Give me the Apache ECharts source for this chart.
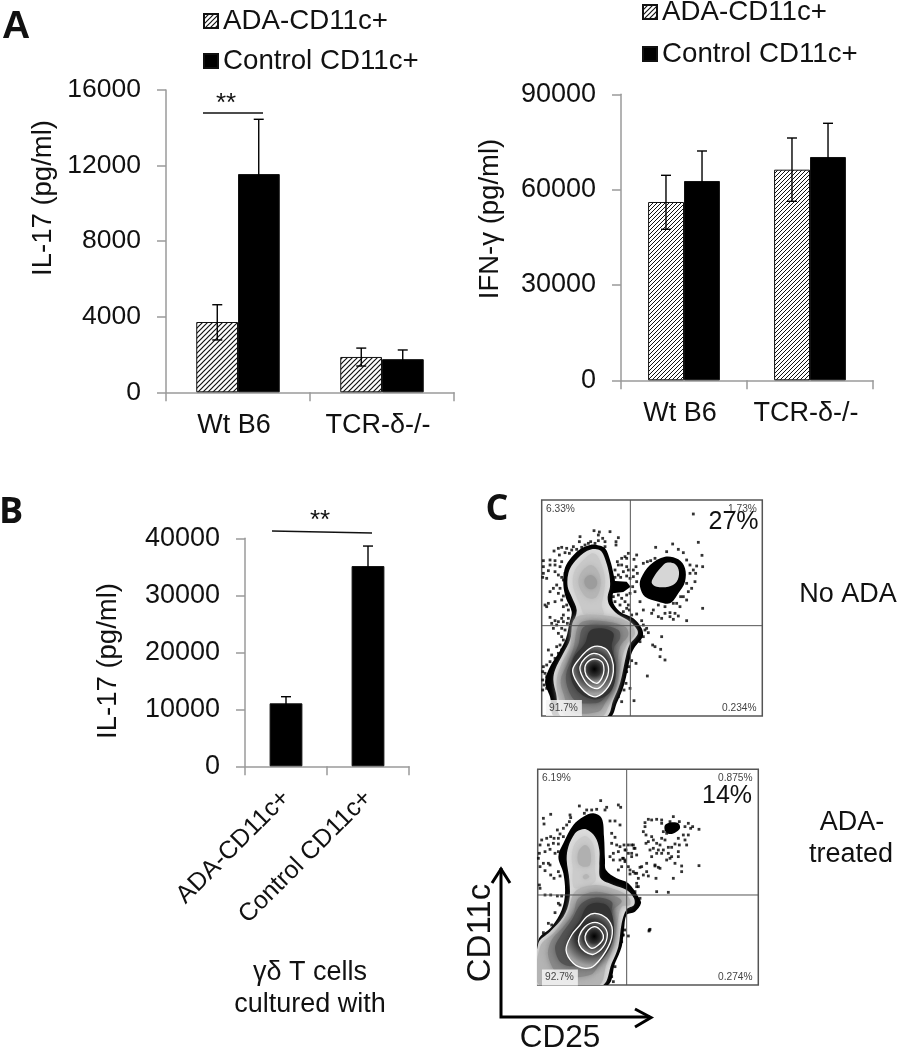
<!DOCTYPE html>
<html>
<head>
<meta charset="utf-8">
<style>html,body{margin:0;padding:0;background:#fff}#c{width:898px;height:1050px}</style>
<script src="https://cdn.jsdelivr.net/npm/echarts@6/dist/echarts.min.js"></script>
</head>
<body>
<div id="c"></div>
<script>
// ---------- bar chart data ----------
const seriesNames = ['ADA-CD11c+', 'Control CD11c+'];
const catsA = ['Wt B6', 'TCR-δ-/-'];
const il17Ada = [3720, 1870];
const il17AdaLow = [2770, 1390];
const il17AdaHigh = [4635, 2340];
const il17Ctrl = [11550, 1755];
const il17CtrlLow = [8650, 1270];
const il17CtrlHigh = [14450, 2240];
const ifnAda = [56110, 66280];
const ifnAdaLow = [47520, 56330];
const ifnAdaHigh = [64510, 76250];
const ifnCtrl = [62720, 70270];
const ifnCtrlLow = [53300, 59700];
const ifnCtrlHigh = [72160, 80880];
const catsB = ['ADA-CD11c+', 'Control CD11c+'];
const il17B = [11050, 35130];
const il17BLow = [9890, 31600];
const il17BHigh = [12210, 38640];

// ---------- flow plot 1: contour outlines and outlying events (plot channel units) ----------
const p1Gate = [301, 407];
const p1Band = [[200,165],[225,175],[240,210],[250,250],[255,285],[248,315],[250,340],[270,365],[310,385],[335,415],[338,440],[315,470],[303,495],[282,585],[260,640],[240,680],[75,680],[60,620],[45,575],[60,530],[88,485],[108,445],[118,400],[125,365],[108,325],[100,285],[103,240],[118,210],[150,178],[180,165]];
const p1Bridge = [[245,272],[290,275],[302,290],[280,306],[248,310]];
const p1Inner = [[200,178],[215,185],[228,215],[238,255],[240,290],[233,320],[238,345],[262,372],[300,395],[322,420],[322,435],[300,462],[290,490],[270,580],[250,630],[228,680],[95,680],[78,610],[70,570],[75,540],[100,490],[120,450],[130,400],[140,360],[125,320],[113,290],[115,250],[130,220],[160,190],[185,178]];
const p1U1 = [[200,195],[215,225],[225,265],[222,310],[215,345],[220,375],[165,375],[150,345],[135,310],[128,275],[135,240],[160,210],[185,190]];
const p1U2 = [[183,225],[205,245],[212,280],[200,320],[175,325],[155,305],[145,275],[155,245]];
const p1U3 = [[183,255],[200,270],[198,290],[180,298],[165,285],[165,265]];
const p1D1 = [[135,385],[210,375],[295,395],[315,430],[290,465],[275,510],[260,590],[235,650],[215,680],[110,680],[85,620],[80,570],[95,520],[120,470]];
const p1D2 = [[150,400],[210,392],[285,410],[295,435],[270,470],[262,520],[250,590],[225,640],[205,665],[125,665],[100,610],[92,570],[110,525],[130,475]];
const p1D3 = [[160,412],[210,405],[265,420],[270,445],[252,475],[255,530],[245,590],[215,632],[190,640],[140,635],[115,600],[108,555],[125,510],[145,465]];
const p1D4 = [[180,422],[215,415],[250,430],[245,470],[258,530],[245,600],[200,628],[150,610],[122,560],[130,505],[165,460]];
const p1R1 = [[185,472],[225,475],[245,505],[250,545],[235,590],[200,620],[170,610],[140,575],[128,540],[145,510]];
const p1R2 = [[190,490],[218,500],[235,530],[230,565],[205,595],[175,585],[155,555],[150,530],[165,505]];
const p1R3 = [[190,507],[215,515],[222,540],[215,565],[200,580],[175,565],[165,545],[168,522]];
const p1Blob = [[405,200],[445,208],[465,235],[465,275],[445,310],[420,340],[385,335],[345,320],[330,290],[333,265],[360,225]];
const p1BlobCore = [[410,218],[435,222],[447,245],[440,275],[415,290],[380,290],[365,278],[375,255],[395,230]];
const p1Events = [[192,122],[208,126],[205,135],[240,125],[150,140],[218,145],[265,143],[258,155],[225,155],[148,155],[258,165],[225,170],[195,160],[175,160],[165,165],[130,170],[110,175],[95,172],[85,175],[72,183],[88,195],[105,188],[118,190],[125,180],[140,178],[155,172],[182,155],[205,152],[490,72],
[60,210],[75,212],[40,212],[40,230],[60,225],[75,225],[95,215],[90,230],[75,245],[55,242],[40,250],[38,262],[50,265],[85,255],[95,262],[105,250],[100,270],[80,285],[90,295],[70,295],[60,305],[85,310],[100,318],[95,330],[75,335],[45,345],[55,340],[50,350],[100,350],[110,345],[115,360],[100,375],[95,385],[60,382],[75,392],[85,395],[100,395],[115,385],[112,400],[65,400],[80,405],[70,415],[95,415],[105,420],[85,430],[95,440],[100,450],[90,465],[80,470],[95,480],[55,480],[65,495],[85,490],[75,505],[60,515],[50,525],[40,530],[38,545],[45,550],[50,560],[38,570],[42,585],[38,600],[50,595],
[262,215],[275,205],[295,190],[290,205],[285,200],[265,225],[275,225],[290,230],[295,240],[255,240],[280,245],[265,255],[272,262],[255,262],[290,258],[300,265],[250,270],[300,310],[290,315],[265,315],[250,320],[275,325],[255,335],[285,335],[270,345],[290,355],[280,365],[298,360],[295,345],[305,375],[320,372],[335,392],[340,405],[345,420],[355,428],[340,440],[330,455],[315,460],[318,230],[312,208],[320,195],[310,240],[322,250],[310,260],[320,275],[308,290],[315,305],[330,335],
[377,172],[410,185],[428,162],[445,178],[460,188],[505,157],[516,196],[500,228],[518,230],[470,210],[480,225],[490,240],[497,250],[480,250],[495,275],[470,280],[485,295],[475,305],[460,320],[470,330],[452,320],[440,340],[450,350],[430,340],[405,350],[385,345],[370,360],[340,360],[365,370],[385,380],[405,370],[420,368],[435,370],[445,378],[395,385],[420,380],[430,388],[470,392],[518,355],[362,212],[375,205],[340,220],[352,215],[395,440],[368,465],[375,470],[392,478],[390,500],[405,510],[352,558],[318,520],[305,512],[298,530],[290,545],[288,580],[300,595],[268,595],[282,600],[265,620],[275,635],[312,632],[250,640],[350,415]];

// ---------- flow plot 2 ----------
const p2Gate = [440, 435];
const p2Band = [[340,190],[365,205],[372,260],[375,330],[378,360],[410,385],[445,400],[475,440],[483,460],[465,485],[440,495],[432,540],[425,590],[405,640],[380,707],[175,707],[175,570],[215,530],[245,480],[255,430],[250,370],[235,320],[250,280],[280,225],[310,200]];
const p2Inner = [[318,238],[345,260],[358,300],[358,345],[362,385],[400,405],[440,420],[462,445],[462,465],[440,478],[425,520],[415,590],[395,640],[365,707],[175,707],[175,580],[210,545],[250,500],[268,450],[268,390],[260,330],[265,290],[285,250],[300,240]];
const p2U1 = [[315,258],[338,280],[345,320],[345,360],[345,395],[300,415],[280,410],[278,350],[275,320],[285,280]];
const p2U2 = [[315,285],[330,300],[330,345],[310,350],[295,340],[295,305]];
const p2U3 = [[318,372],[328,380],[315,388],[308,380]];
const p2D1 = [[285,425],[345,405],[410,420],[445,440],[450,465],[425,470],[412,520],[400,590],[380,640],[355,707],[180,707],[180,590],[225,545],[262,490]];
const p2D2 = [[295,445],[345,425],[410,440],[425,455],[400,480],[395,530],[385,590],[360,640],[330,675],[240,675],[205,620],[215,570],[250,530],[280,490]];
const p2D3 = [[305,460],[345,443],[395,455],[395,480],[390,530],[375,590],[345,640],[300,650],[245,640],[225,595],[240,560],[275,510]];
const p2D4 = [[320,470],[350,458],[385,470],[402,530],[392,590],[350,640],[310,640],[262,610],[270,555],[300,510]];
const p2R1 = [[345,490],[380,505],[397,540],[385,590],[345,645],[315,655],[280,640],[258,600],[275,555],[300,525],[320,500]];
const p2R2 = [[345,517],[372,530],[382,555],[370,590],[340,613],[315,605],[298,585],[297,560],[315,530]];
const p2R3 = [[345,530],[365,545],[370,565],[355,585],[335,595],[320,580],[315,560],[325,540]];
const p2Blob = [[555,225],[570,218],[595,220],[600,235],[585,248],[568,252],[555,242]];
const p2Events = [[298,168],[362,152],[415,165],[422,172],[380,172],[375,180],[350,178],[335,180],[320,180],[313,190],[270,195],[272,203],[212,193],[190,205],[192,222],[268,215],[260,225],[250,235],[232,240],[212,260],[200,265],[222,265],[235,265],[185,270],[180,285],[205,285],[220,280],[235,282],[250,260],[240,252],[178,310],[195,305],[210,298],[175,325],[225,310],[235,305],[190,340],[205,340],[210,345],[180,350],[195,362],[212,375],[235,365],[240,378],[222,385],[178,405],[180,415],[195,435],[212,435],[232,438],[245,438],[235,460],[240,465],[225,488],[205,520],[215,525],[190,548],
[390,213],[405,213],[395,250],[405,262],[420,225],[395,280],[410,285],[400,310],[420,290],[415,305],[390,320],[400,330],[420,330],[430,325],[435,335],[425,350],[415,360],[445,285],[460,285],[465,295],[445,310],[455,320],[445,350],[460,365],[450,372],[470,370],[475,385],[480,352],[470,410],[465,425],[435,300],
[432,285],[438,300],[435,330],[428,325],[455,285],[462,295],[455,310],[470,315],[485,350],[500,340],[500,365],[490,375],[505,378],[525,345],[540,355],[560,330],[575,320],[585,340],[605,348],[657,347],[528,385],[580,385],[605,365],[530,425],[565,427],[450,360],[465,370],[470,400],[475,410],[480,445],[508,540],[507,543],[510,538],[445,558],[430,555],
[495,218],[505,208],[515,210],[530,208],[545,210],[545,220],[495,230],[490,245],[498,255],[515,260],[520,270],[505,275],[498,280],[550,245],[560,250],[555,270],[545,265],[530,280],[540,285],[520,295],[510,300],[535,300],[550,300],[565,292],[575,292],[585,282],[598,285],[615,270],[595,265],[610,255],[625,255],[620,285],[632,235],[625,220],[615,230],[638,230],[657,238],[598,215],[580,200],[570,215],[515,320],[565,310],[570,325],[545,310],[530,310],[595,305],[595,320],[525,348],[535,352],
[428,555],[435,540],[425,575],[405,650],[395,680],[400,695]];

// ---------- styling helpers ----------
const FONT = '"Liberation Sans", Arial, sans-serif';
const INK = '#111';
const AXIS = '#9a9a9a';

function hatchTile(pitch, w) {
  const cv = document.createElement('canvas');
  cv.width = pitch; cv.height = pitch;
  const g = cv.getContext('2d');
  g.fillStyle = '#fff'; g.fillRect(0, 0, pitch, pitch);
  g.strokeStyle = '#111'; g.lineWidth = w;
  [[-1, pitch + 1, pitch + 1, -1], [-1, 1, 1, -1], [pitch - 1, pitch + 1, pitch + 1, pitch - 1]].forEach(s => {
    g.beginPath(); g.moveTo(s[0], s[1]); g.lineTo(s[2], s[3]); g.stroke();
  });
  return { image: cv, repeat: 'repeat' };
}
const hatchA = hatchTile(5, 1.15);
const hatchB = hatchTile(4, 1);

function xAxis(grid, cats, extra) {
  return Object.assign({
    type: 'category', gridIndex: grid, data: cats,
    axisLine: { show: true, lineStyle: { color: AXIS, width: 1.5 } },
    axisTick: { show: true, length: 9, inside: false, lineStyle: { color: AXIS, width: 1.5 } },
    axisLabel: { color: INK, fontFamily: FONT, fontSize: 27, margin: 20, interval: 0, hideOverlap: false, padding: [0, 8, 0, 0] },
    splitLine: { show: false }
  }, extra || {});
}
function plainNumber(v) { return String(v); }
function yAxis(grid, max, step, size) {
  return {
    type: 'value', gridIndex: grid, min: 0, max: max, interval: step,
    axisLine: { show: true, lineStyle: { color: AXIS, width: 1.5 } },
    axisTick: { show: true, length: 9, lineStyle: { color: AXIS, width: 1.5 } },
    axisLabel: { color: INK, fontFamily: FONT, fontSize: size, margin: 25, showMinLabel: true, showMaxLabel: true, formatter: plainNumber, padding: [8, 0, 0, 0] },
    splitLine: { show: false }
  };
}
function barSeries(name, grid, vals, fill, gap) {
  return {
    type: 'bar', name: name, xAxisIndex: grid, yAxisIndex: grid, data: vals,
    barGap: 0, barCategoryGap: gap, silent: true,
    itemStyle: { color: fill, borderColor: '#111', borderWidth: 1 }
  };
}
// whisker centred on a bar: shift is the fraction of the band between band centre and bar centre
function whisker(grid, low, high, shift) {
  return {
    type: 'custom', xAxisIndex: grid, yAxisIndex: grid, silent: true, z: 5,
    data: low.map((v, i) => [i, v, high[i]]),
    renderItem: function (params, api) {
      const band = api.size([1, 0])[0];
      const cx = api.coord([api.value(0), api.value(2)])[0] + band * shift;
      const yHi = api.coord([api.value(0), api.value(2)])[1];
      const yLo = api.coord([api.value(0), api.value(1)])[1];
      const ln = (x1, y1, x2, y2) => ({ type: 'line', shape: { x1, y1, x2, y2 }, style: { stroke: '#000', lineWidth: 1.4 } });
      return { type: 'group', children: [ln(cx, yHi, cx, yLo), ln(cx - 5, yHi, cx + 5, yHi), ln(cx - 5, yLo, cx + 5, yLo)] };
    }
  };
}
function ring(cx, cy, inner, outer) {
  return { type: 'radial', x: cx, y: cy, r: 0.62, colorStops: [{ offset: 0, color: inner }, { offset: 0.55, color: '#333' }, { offset: 1, color: outer }] };
}
function contours(grid, levels) {
  return {
    type: 'custom', xAxisIndex: grid, yAxisIndex: grid, silent: true, clip: true, z: 3,
    data: levels.map((l, i) => [i]),
    renderItem: function (params, api) {
      const l = levels[params.dataIndex];
      return {
        type: 'polygon',
        shape: { points: l.pts.map(p => api.coord(p)), smooth: l.smooth === undefined ? 0.35 : l.smooth },
        style: {
          fill: l.fill, stroke: l.stroke || null, lineWidth: l.stroke ? 1.3 : 0,
          shadowBlur: l.blur || 0, shadowColor: l.blur ? l.fill : 'transparent'
        }
      };
    }
  };
}
function events(grid, pts) {
  return {
    type: 'scatter', xAxisIndex: grid, yAxisIndex: grid, data: pts, silent: true, clip: true, z: 2,
    symbol: 'rect', symbolSize: 2.8, itemStyle: { color: '#000' }
  };
}
function gates(grid, gate, xr, yr) {
  return {
    type: 'custom', xAxisIndex: grid, yAxisIndex: grid, silent: true, z: 6,
    data: [[gate[0], gate[1]]],
    renderItem: function (params, api) {
      const a = api.coord([api.value(0), yr[0]]), b = api.coord([api.value(0), yr[1]]);
      const c = api.coord([xr[0], api.value(1)]), d = api.coord([xr[1], api.value(1)]);
      const st = { stroke: '#555', lineWidth: 1 };
      return { type: 'group', children: [
        { type: 'line', shape: { x1: a[0], y1: a[1], x2: b[0], y2: b[1] }, style: st },
        { type: 'line', shape: { x1: c[0], y1: c[1], x2: d[0], y2: d[1] }, style: st }
      ] };
    }
  };
}
function flowAxisX(grid, range) { return { type: 'value', gridIndex: grid, min: range[0], max: range[1], show: false }; }
function flowAxisY(grid, range) { return { type: 'value', gridIndex: grid, min: range[0], max: range[1], inverse: true, show: false }; }

function txt(text, x, y, size, opts) {
  const o = opts || {};
  return {
    type: 'text', x: x, y: y, rotation: o.rot || 0, z: 20, silent: true,
    style: {
      text: text, fontSize: size, fontFamily: o.font || FONT, fontWeight: o.weight || 'normal',
      fill: o.fill || INK, align: o.align || 'center', verticalAlign: 'middle',
      textAlign: o.align || 'center', textVerticalAlign: 'middle',
      backgroundColor: o.bg, padding: o.pad
    }
  };
}
function seg(points, w, color) {
  return { type: 'polyline', z: 20, silent: true, shape: { points: points }, style: { stroke: color || '#111', lineWidth: w, fill: null } };
}
function legend(left, top, gap) {
  return {
    left: left, top: top, padding: 0, orient: 'vertical', data: seriesNames, icon: 'rect',
    itemWidth: 14, itemHeight: 14, itemGap: gap, selectedMode: false,
    textStyle: { color: INK, fontFamily: FONT, fontSize: 27.7 }
  };
}

const p1X = [35, 697], p1Y = [30, 678], p2X = [173, 835], p2Y = [58, 705];
const p1Levels = [
  { pts: p1Band, fill: '#000' }, { pts: p1Bridge, fill: '#000', smooth: 0 },
  { pts: p1Inner, fill: '#dcdcdc' }, { pts: p1U1, fill: '#c9c9c9', blur: 6 }, { pts: p1U2, fill: '#b5b5b5', blur: 6 }, { pts: p1U3, fill: '#9c9c9c', blur: 5 },
  { pts: p1D1, fill: '#b8b8b8', blur: 6 }, { pts: p1D2, fill: '#8e8e8e', blur: 7 }, { pts: p1D3, fill: '#5e5e5e', blur: 8 }, { pts: p1D4, fill: '#333', blur: 8 },
  { pts: p1R1, fill: ring(0.52, 0.42, '#151515', '#a0a0a0'), stroke: '#fff' },
  { pts: p1R2, fill: ring(0.5, 0.45, '#181818', '#a0a0a0'), stroke: '#fff' },
  { pts: p1R3, fill: ring(0.5, 0.42, '#000', '#8f8f8f'), stroke: '#fff' },
  { pts: p1Blob, fill: '#000' }, { pts: p1BlobCore, fill: '#d6d6d6' }
];
const p2Levels = [
  { pts: p2Band, fill: '#000' },
  { pts: p2Inner, fill: '#dcdcdc' }, { pts: p2U1, fill: '#cbcbcb', blur: 6 }, { pts: p2U2, fill: '#b0b0b0', blur: 6 }, { pts: p2U3, fill: '#b5b5b5', blur: 4 },
  { pts: p2D1, fill: '#b4b4b4', blur: 6 }, { pts: p2D2, fill: '#8a8a8a', blur: 7 }, { pts: p2D3, fill: '#555', blur: 8 }, { pts: p2D4, fill: '#333', blur: 8 },
  { pts: p2R1, fill: ring(0.55, 0.42, '#151515', '#a0a0a0'), stroke: '#fff' },
  { pts: p2R2, fill: ring(0.52, 0.45, '#181818', '#a0a0a0'), stroke: '#fff' },
  { pts: p2R3, fill: ring(0.5, 0.45, '#000', '#8f8f8f'), stroke: '#fff' },
  { pts: p2Blob, fill: '#000' }
];

const option = {
  animation: false,
  backgroundColor: '#fff',
  textStyle: { fontFamily: FONT },
  legend: [legend(203, 7, 12), legend(642, -2, 14)],
  grid: [
    { left: 166, top: 90, width: 288, height: 302.3 },
    { left: 621, top: 94.3, width: 252, height: 286 },
    { left: 245, top: 538.3, width: 164, height: 228 },
    { left: 541.7, top: 500, width: 220.6, height: 216, show: true, borderColor: '#555', borderWidth: 1.5, backgroundColor: '#fff' },
    { left: 537.7, top: 769.3, width: 220.6, height: 215.7, show: true, borderColor: '#555', borderWidth: 1.5, backgroundColor: '#fff' }
  ],
  xAxis: [
    xAxis(0, catsA), xAxis(1, catsA),
    xAxis(2, catsB, { axisLabel: { color: INK, fontFamily: FONT, fontSize: 25, margin: 28, interval: 0, rotate: 45, hideOverlap: false } }),
    flowAxisX(3, p1X), flowAxisX(4, p2X)
  ],
  yAxis: [
    yAxis(0, 16000, 4000, 26.5), yAxis(1, 90000, 30000, 27), yAxis(2, 40000, 10000, 27),
    flowAxisY(3, p1Y), flowAxisY(4, p2Y)
  ],
  series: [
    barSeries(seriesNames[0], 0, il17Ada, hatchA, '42%'),
    barSeries(seriesNames[1], 0, il17Ctrl, '#000', '42%'),
    whisker(0, il17AdaLow, il17AdaHigh, -0.144),
    whisker(0, il17CtrlLow, il17CtrlHigh, 0.144),
    barSeries(seriesNames[0], 1, ifnAda, hatchB, '43%'),
    barSeries(seriesNames[1], 1, ifnCtrl, '#000', '43%'),
    whisker(1, ifnAdaLow, ifnAdaHigh, -0.143),
    whisker(1, ifnCtrlLow, ifnCtrlHigh, 0.143),
    barSeries('IL-17', 2, il17B, '#000', '60%'),
    whisker(2, il17BLow, il17BHigh, 0),
    events(3, p1Events), contours(3, p1Levels), gates(3, p1Gate, p1X, p1Y),
    events(4, p2Events), contours(4, p2Levels), gates(4, p2Gate, p2X, p2Y)
  ],
  graphic: [
    txt('A', 16, 27, 39, { weight: 'bold' }),
    txt('B', 11, 513, 36, { weight: 'bold', font: '"Open Sans", sans-serif' }),
    txt('C', 497, 510, 36, { weight: 'bold', font: '"Open Sans", sans-serif' }),
    txt('IL-17 (pg/ml)', 43, 198, 27.5, { rot: Math.PI / 2 }),
    txt('IFN-γ (pg/ml)', 490, 219, 27.5, { rot: Math.PI / 2 }),
    txt('IL-17 (pg/ml)', 108, 661, 27.5, { rot: Math.PI / 2 }),
    seg([[203, 113], [263, 113]], 1.4),
    txt('**', 226, 104, 26),
    seg([[272, 531], [372, 533]], 1.4),
    txt('**', 320, 521, 26),
    txt('γδ T cells', 310, 973, 27),
    txt('cultured with', 310, 1005, 27),
    txt('6.33%', 546, 509, 10.2, { align: 'left', fill: '#444' }),
    txt('1.73%', 728, 509, 10.2, { align: 'left', fill: '#444' }),
    txt('27%', 733.5, 522, 25),
    txt('91.7%', 546, 708, 10.2, { align: 'left', fill: '#444', bg: 'rgba(245,245,245,0.85)', pad: [3, 4, 3, 3] }),
    txt('0.234%', 722, 708, 10.2, { align: 'left', fill: '#444' }),
    txt('6.19%', 542, 778.5, 10.2, { align: 'left', fill: '#444' }),
    txt('0.875%', 718, 778, 10.2, { align: 'left', fill: '#444' }),
    txt('14%', 727, 796, 25),
    txt('92.7%', 542, 977.5, 10.2, { align: 'left', fill: '#444', bg: 'rgba(245,245,245,0.85)', pad: [3, 4, 3, 3] }),
    txt('0.274%', 718, 977.5, 10.2, { align: 'left', fill: '#444' }),
    txt('No ADA', 848, 595, 27),
    txt('ADA-', 852, 823, 27),
    txt('treated', 851, 855, 27),
    seg([[501, 868], [501, 1017], [650, 1017]], 3, '#000'),
    seg([[492, 883], [501, 869], [510, 883]], 3, '#000'),
    seg([[635, 1009], [651, 1017.5], [635, 1027]], 3, '#000'),
    txt('CD11c', 481, 933, 33, { rot: Math.PI / 2 }),
    txt('CD25', 560, 1038, 31.5)
  ]
};
const chart = echarts.init(document.getElementById('c'), null, { renderer: 'canvas', width: 898, height: 1050 });
chart.setOption(option);
</script>
</body>
</html>
